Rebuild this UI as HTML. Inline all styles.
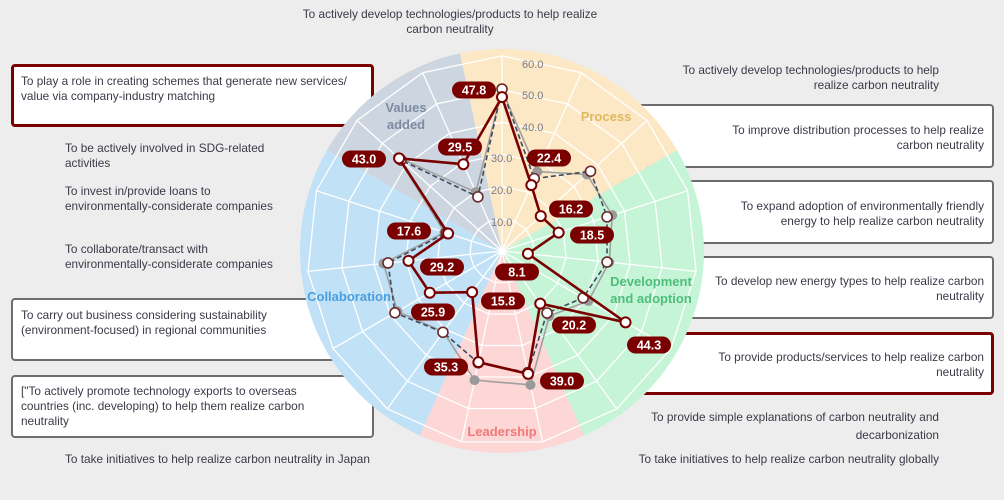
<!DOCTYPE html>
<html><head><meta charset="utf-8"><style>
body{margin:0;background:#ededed;}
#c{position:relative;width:1004px;height:500px;overflow:hidden;font-family:"Liberation Sans",sans-serif;color:#3a3a48;font-size:11.8px;line-height:15px;}
.t{position:absolute;white-space:nowrap;}
.r{text-align:right;}
.box{position:absolute;background:#fff;border:2px solid #6d6d6d;border-radius:4px;box-sizing:border-box;}
.red{border:3px solid #7a0000;}
svg{position:absolute;left:0;top:0;}
</style></head><body><div id="c">
<div class="box red" style="left:11px;top:64px;width:363px;height:63px"></div>
<div class="box" style="left:11px;top:298px;width:363px;height:63px"></div>
<div class="box" style="left:11px;top:375px;width:363px;height:63px"></div>
<div class="box" style="left:620px;top:104px;width:374px;height:64px"></div>
<div class="box" style="left:620px;top:180px;width:374px;height:64px"></div>
<div class="box" style="left:620px;top:256px;width:374px;height:63px"></div>
<div class="box red" style="left:620px;top:332px;width:374px;height:63px"></div>

<div class="t" style="left:21px;top:74px">To play a role in creating schemes that generate new services/<br>value via company-industry matching</div>
<div class="t" style="left:65px;top:141px">To be actively involved in SDG-related<br>activities</div>
<div class="t" style="left:65px;top:184px">To invest in/provide loans to<br>environmentally-considerate companies</div>
<div class="t" style="left:65px;top:242px">To collaborate/transact with<br>environmentally-considerate companies</div>
<div class="t" style="left:21px;top:308px">To carry out business considering sustainability<br>(environment-focused) in regional communities</div>
<div class="t" style="left:21px;top:384px">["To actively promote technology exports to overseas<br>countries (inc. developing) to help them realize carbon<br>neutrality</div>
<div class="t" style="left:65px;top:452px">To take initiatives to help realize carbon neutrality in Japan</div>

<div class="t" style="left:300px;width:300px;top:7px;text-align:center">To actively develop technologies/products to help realize<br>carbon neutrality</div>
<div class="t r" style="right:65px;top:63px">To actively develop technologies/products to help<br>realize carbon neutrality</div>
<div class="t r" style="right:20px;top:123px">To improve distribution processes to help realize<br>carbon neutrality</div>
<div class="t r" style="right:20px;top:199px">To expand adoption of environmentally friendly<br>energy to help realize carbon neutrality</div>
<div class="t r" style="right:20px;top:274px">To develop new energy types to help realize carbon<br>neutrality</div>
<div class="t r" style="right:20px;top:350px">To provide products/services to help realize carbon<br>neutrality</div>
<div class="t r" style="right:65px;top:408px;line-height:18px">To provide simple explanations of carbon neutrality and<br>decarbonization</div>
<div class="t r" style="right:65px;top:452px">To take initiatives to help realize carbon neutrality globally</div>

<svg id="s" width="1004" height="500" xmlns="http://www.w3.org/2000/svg">
<g id="sec"></g><g id="grid"></g>
<g font-family="Liberation Sans,sans-serif" font-size="11" fill="#7a7a86">
<text x="522" y="68">60.0</text><text x="522" y="99">50.0</text><text x="522" y="131">40.0</text>
<text x="491" y="162">30.0</text><text x="491" y="194">20.0</text><text x="491" y="226">10.0</text>
</g>
<g font-family="Liberation Sans,sans-serif" font-size="13" font-weight="bold" text-anchor="middle">
<text x="406" y="112" fill="#7d8ba2">Values</text><text x="406" y="129" fill="#7d8ba2">added</text>
<text x="606" y="121" fill="#e0b860">Process</text>
<text x="651" y="286" fill="#4cbf7a">Development</text><text x="651" y="303" fill="#4cbf7a">and adoption</text>
<text x="349" y="301" fill="#4a9fe0">Collaboration</text>
<text x="502" y="436" fill="#f07a7a">Leadership</text>
</g>
<g id="ser"></g>
<g id="lab"></g>
</svg>
</div>
<script>
var cx=502,cy=251,k=3.22,N=15,NS="http://www.w3.org/2000/svg";
function P(i,v){var a=(i*24)*Math.PI/180;return [cx+Math.sin(a)*v*k,cy-Math.cos(a)*v*k];}
function el(t,a,p){var e=document.createElementNS(NS,t);for(var x in a)e.setAttribute(x,a[x]);document.getElementById(p).appendChild(e);return e;}
var R=202;
function arc(a0,a1,col){var r0=a0*Math.PI/180,r1=a1*Math.PI/180;
var x0=cx+Math.sin(r0)*R,y0=cy-Math.cos(r0)*R,x1=cx+Math.sin(r1)*R,y1=cy-Math.cos(r1)*R;
el('path',{d:'M'+cx+','+cy+'L'+x0+','+y0+'A'+R+','+R+' 0 '+((a1-a0)>180?1:0)+' 1 '+x1+','+y1+'Z',fill:col},'sec');}
arc(-12,60,'#fde8c6');arc(60,156,'#c6f4d6');arc(156,204,'#fdd6d6');arc(204,300,'#c0e1f6');arc(300,348,'#cdd6e0');
var rings=[10,20,30,40,50,60.6];
rings.forEach(function(l){var pts=[];for(var i=0;i<N;i++)pts.push(P(i,l).join(','));
el('polygon',{points:pts.join(' '),fill:'none',stroke:'#fff','stroke-width':1.3},'grid');});
for(var i=0;i<N;i++){var p=P(i,60.6);el('line',{x1:cx,y1:cy,x2:p[0],y2:p[1],stroke:'#fff','stroke-width':1.3},'grid');}
var red=[47.8,22.4,16.2,18.5,8.1,44.3,20.2,39.0,35.3,15.8,25.9,29.2,17.6,43.0,29.5];
var dsh=[50.3,24.6,37,34.3,32.8,29.1,23.8,38.6,35.5,31.2,38.4,35.6,18.2,42.2,18.4];
var gry=[50,27,35.5,36,33.5,31,25,42.5,41,31,37.5,37,18.8,43.5,20];
function ser(d,st,dot){var pts=d.map(function(v,i){return P(i,v).join(',')});
el('polygon',Object.assign({points:pts.join(' '),fill:'none'},st),'ser');
d.forEach(function(v,i){var p=P(i,v);el('circle',Object.assign({cx:p[0],cy:p[1],r:5},dot),'ser');});}
ser(gry,{stroke:'#a0a0a0','stroke-width':1.6},{fill:'#9a9a9a'});
ser(dsh,{stroke:'#3d4a5e','stroke-width':1.6,'stroke-dasharray':'5,3'},{fill:'#fff',stroke:'#6b2a2a','stroke-width':1.6});
ser(red,{stroke:'#7a0000','stroke-width':2.6},{fill:'#fff',stroke:'#7a0000','stroke-width':2});
var L=[["47.8",474,90],["29.5",460,147],["43.0",364,159],["22.4",549,158],["16.2",571,209],["18.5",592,235],["8.1",517,272],["17.6",409,231],["29.2",442,267],["25.9",433,312],["15.8",503,301],["20.2",574,325],["44.3",649,345],["35.3",446,367],["39.0",562,381]];
L.forEach(function(a){el('rect',{x:a[1]-22,y:a[2]-8.5,width:44,height:17,rx:8.5,fill:'#7a0000'},'lab');});
</script>
<svg width="1004" height="500" style="position:absolute;left:0;top:0" xmlns="http://www.w3.org/2000/svg" font-family="Liberation Sans,sans-serif" font-size="12.5" font-weight="bold" fill="#fff" text-anchor="middle">
<text x="474" y="94.5">47.8</text><text x="460" y="151.5">29.5</text><text x="364" y="163.5">43.0</text>
<text x="549" y="162.5">22.4</text><text x="571" y="213.5">16.2</text><text x="592" y="239.5">18.5</text>
<text x="517" y="276.5">8.1</text><text x="409" y="235.5">17.6</text><text x="442" y="271.5">29.2</text>
<text x="433" y="316.5">25.9</text><text x="503" y="305.5">15.8</text><text x="574" y="329.5">20.2</text>
<text x="649" y="349.5">44.3</text><text x="446" y="371.5">35.3</text><text x="562" y="385.5">39.0</text>
</svg>
</body></html>
